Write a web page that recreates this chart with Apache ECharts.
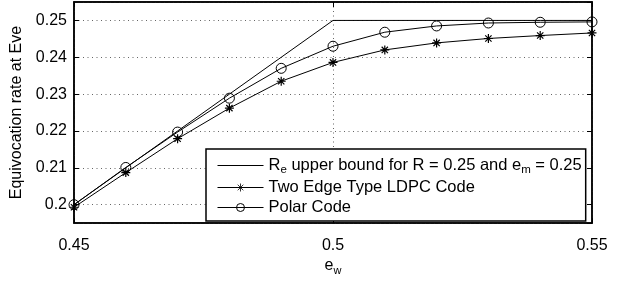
<!DOCTYPE html>
<html>
<head>
<meta charset="utf-8">
<script src="https://cdn.jsdelivr.net/npm/echarts@6/dist/echarts.min.js"></script>
<style>
  html, body { margin: 0; padding: 0; background: #fff; }
  #container { width: 627px; height: 281px; }
</style>
</head>
<body>
<div id="container"></div>
<script>
var ewValues = [0.45, 0.46, 0.47, 0.48, 0.49, 0.50, 0.51, 0.52, 0.53, 0.54, 0.55];
var upperBound = [0.200, 0.210, 0.220, 0.230, 0.240, 0.250, 0.250, 0.250, 0.250, 0.250, 0.250];
var ldpcRate = [0.1993, 0.2087, 0.2179, 0.2262, 0.2335, 0.2386, 0.2420, 0.2439, 0.2451, 0.2459, 0.2466];
var polarRate = [0.2000, 0.2101, 0.2197, 0.2289, 0.2370, 0.2430, 0.2468, 0.2485, 0.2493, 0.2495, 0.2496];

var FONT = 'Liberation Sans';
var FS = 16;
var starPath = 'path://M5,0 L5,10 M0,5 L10,5 M1.5,1.5 L8.5,8.5 M1.5,8.5 L8.5,1.5';

function pairs(ys) {
    return ys.map(function (y, i) { return [ewValues[i], y]; });
}

function yLabel(v) {
    var k = v * 100;
    if (Math.abs(k - Math.round(k)) > 1e-6) return '';
    return String(Math.round(k) / 100);
}

var myChart = echarts.init(document.getElementById('container'), null, { renderer: 'canvas' });

var gridLine = { show: true, lineStyle: { color: '#666', type: [1, 3.5], width: 1 } };
var subRich = {
    n: { fontFamily: FONT, fontSize: FS, color: '#000' },
    s: { fontFamily: FONT, fontSize: 11, color: '#000', padding: [9, 0, 0, 0] }
};
var legendRich = {
    n: { fontFamily: FONT, fontSize: 16.5, color: '#000' },
    s: { fontFamily: FONT, fontSize: 11.5, color: '#000', padding: [9, 0, 0, 0] }
};

var option = {
    animation: false,
    backgroundColor: '#fff',
    textStyle: { fontFamily: FONT },
    grid: {
        left: 74, right: 35, top: 2, bottom: 51,
        show: true, borderColor: '#000', borderWidth: 1.5
    },
    legend: {
        orient: 'vertical',
        left: 206, top: 149,
        backgroundColor: '#fff',
        borderColor: '#000', borderWidth: 1.5,
        padding: [8, 4, 5, 11],
        itemGap: 3,
        itemWidth: 46, itemHeight: 10,
        lineStyle: { width: 1 },
        data: [
            { name: 'upper', itemStyle: { opacity: 0 } },
            { name: 'ldpc', itemStyle: { borderWidth: 0.8 } },
            { name: 'polar', itemStyle: { borderWidth: 1 } }
        ],
        textStyle: { fontFamily: FONT, fontSize: 16.5, color: '#000', rich: legendRich },
        formatter: function (name) {
            if (name === 'upper') return '{n|R}{s|e}{n| upper bound for R = 0.25 and e}{s|m}{n| = 0.25}';
            if (name === 'ldpc') return '{n|Two Edge Type LDPC Code}';
            return '{n|Polar Code}';
        }
    },
    xAxis: [{
        type: 'value', min: 0.45, max: 0.55, interval: 0.05,
        name: '{n|e}{s|w}', nameLocation: 'middle', nameGap: 26,
        nameTextStyle: { rich: subRich },
        axisLine: { show: true, onZero: false, lineStyle: { color: '#000', width: 1.5 } },
        axisTick: { show: true, inside: true, length: 5, lineStyle: { color: '#000' } },
        axisLabel: { color: '#000', fontSize: FS, fontFamily: FONT, margin: 14,
            formatter: function (v) { return String(Math.round(v * 100) / 100); } },
        splitLine: gridLine
    }, {
        type: 'value', position: 'top', min: 0.45, max: 0.55, interval: 0.05,
        axisLine: { show: true, onZero: false, lineStyle: { color: '#000', width: 1.5 } },
        axisTick: { show: true, inside: true, length: 5, lineStyle: { color: '#000' } },
        axisLabel: { show: false }, splitLine: { show: false }
    }],
    yAxis: [{
        type: 'value', min: 0.195, max: 0.255, splitNumber: 6,
        name: 'Equivocation rate at Eve', nameLocation: 'middle', nameGap: 41,
        nameTextStyle: { color: '#000', fontSize: FS, fontFamily: FONT },
        axisLine: { show: true, onZero: false, lineStyle: { color: '#000', width: 1.5 } },
        axisTick: { show: true, inside: true, length: 5, lineStyle: { color: '#000' } },
        axisLabel: { color: '#000', fontSize: FS, fontFamily: FONT, margin: 7,
            showMinLabel: false, showMaxLabel: false, formatter: yLabel },
        splitLine: gridLine
    }, {
        type: 'value', position: 'right', min: 0.195, max: 0.255, splitNumber: 6,
        axisLine: { show: true, onZero: false, lineStyle: { color: '#000', width: 1.5 } },
        axisTick: { show: true, inside: true, length: 5, lineStyle: { color: '#000' } },
        axisLabel: { show: false }, splitLine: { show: false }
    }],
    series: [{
        name: 'upper', type: 'line', data: pairs(upperBound),
        symbol: 'none', color: '#000',
        lineStyle: { color: '#000', width: 1 }
    }, {
        name: 'ldpc', type: 'line', data: pairs(ldpcRate),
        symbol: starPath, symbolSize: 9, color: '#000',
        lineStyle: { color: '#000', width: 1 },
        itemStyle: { color: 'none', borderColor: '#000', borderWidth: 1.2 }
    }, {
        name: 'polar', type: 'line', data: pairs(polarRate),
        symbol: 'circle', symbolSize: 10, color: '#000',
        lineStyle: { color: '#000', width: 1 },
        itemStyle: { color: 'none', borderColor: '#000', borderWidth: 1 }
    }]
};

myChart.setOption(option);
</script>
</body>
</html>
